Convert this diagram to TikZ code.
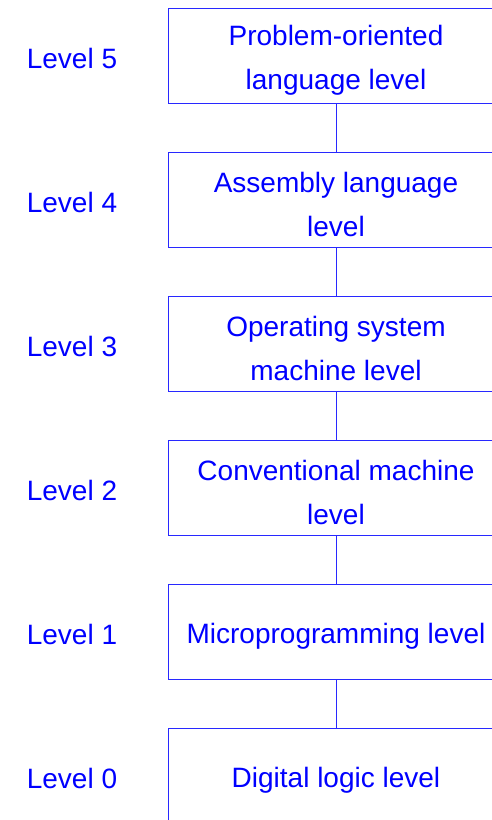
\documentclass[tikz,border=0pt]{standalone}
\usepackage{fontspec}
\setmainfont{Liberation Sans}
\definecolor{tblue}{RGB}{0,0,255}
\definecolor{lblue}{RGB}{40,40,255}
\begin{document}
\begin{tikzpicture}[x=1pt,y=-1pt,
  levelbox/.style={draw=lblue, line width=1pt, minimum width=336pt, minimum height=95pt, inner sep=0pt},
  boxtext/.style={align=center, text=tblue, inner sep=0pt, font=\fontsize{28}{44}\selectfont},
  levellabel/.style={text=tblue, font=\fontsize{28}{44}\selectfont},
  conn/.style={draw=lblue, line width=1pt}]
\useasboundingbox (0,0) rectangle (492,820);
\clip (0,0) rectangle (492,820);
\node[levelbox] (b5) at (336,55.5) {};
\node[levelbox] (b4) at (336,199.5) {};
\node[levelbox] (b3) at (336,343.5) {};
\node[levelbox] (b2) at (336,487.5) {};
\node[levelbox] (b1) at (336,631.5) {};
\node[levelbox] (b0) at (336,775.5) {};
\node[boxtext] (t5) at ([yshift=-4.5pt]b5.center) {Problem-oriented\\language level};
\node[boxtext] (t4) at ([yshift=-4.5pt]b4.center) {Assembly language\\level};
\node[boxtext] (t3) at ([yshift=-4.5pt]b3.center) {Operating system\\machine level};
\node[boxtext] (t2) at ([yshift=-4.5pt]b2.center) {Conventional machine\\level};
\node[boxtext] (t1) at ([yshift=-5pt]b1.center) {Microprogramming level};
\node[boxtext] (t0) at ([yshift=-5pt]b0.center) {Digital logic level};
\node[levellabel] (l5) at (72,58) {Level 5};
\node[levellabel] (l4) at (72,202) {Level 4};
\node[levellabel] (l3) at (72,346) {Level 3};
\node[levellabel] (l2) at (72,490) {Level 2};
\node[levellabel] (l1) at (72,634) {Level 1};
\node[levellabel] (l0) at (72,778) {Level 0};
\draw[conn] (b5.south) -- (b4.north);
\draw[conn] (b4.south) -- (b3.north);
\draw[conn] (b3.south) -- (b2.north);
\draw[conn] (b2.south) -- (b1.north);
\draw[conn] (b1.south) -- (b0.north);
\end{tikzpicture}
\end{document}
